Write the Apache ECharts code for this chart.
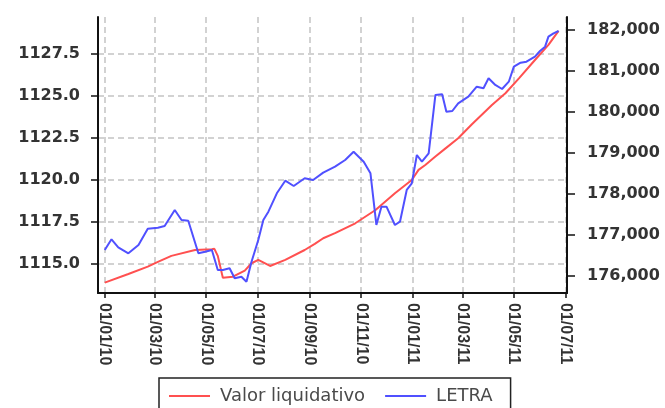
<!DOCTYPE html>
<html>
<head>
<meta charset="utf-8">
<script src="https://cdn.jsdelivr.net/npm/echarts@6/dist/echarts.min.js"></script>
<style>
  html, body { margin: 0; padding: 0; background: #fff; }
  #chart { width: 665px; height: 408px; }
</style>
</head>
<body>
<div id="chart"></div>
<script>
// Valor liquidativo (left axis)
const redDates = [
  '2010-01-01','2010-01-29','2010-02-21','2010-03-05','2010-03-21','2010-04-18','2010-05-08',
  '2010-05-11','2010-05-15','2010-05-21','2010-06-02','2010-06-16','2010-06-24','2010-07-02',
  '2010-07-16','2010-08-03','2010-08-26','2010-09-07','2010-09-17','2010-10-01','2010-10-25',
  '2010-11-18','2010-12-11','2010-12-31','2011-01-08','2011-01-16','2011-01-28','2011-02-09',
  '2011-02-24','2011-03-12','2011-04-05','2011-04-21','2011-05-07','2011-05-26','2011-06-11',
  '2011-06-23'
];
const redValues = [
  1113.89, 1114.40, 1114.84, 1115.12, 1115.48, 1115.83, 1115.87,
  1115.90, 1115.48, 1114.18, 1114.24, 1114.60, 1115.04, 1115.24,
  1114.88, 1115.24, 1115.83, 1116.19, 1116.53, 1116.83, 1117.42,
  1118.21, 1119.21, 1120.00, 1120.60, 1120.89, 1121.39, 1121.88,
  1122.48, 1123.30, 1124.46, 1125.16, 1126.05, 1127.14, 1128.04,
  1128.87
];

// LETRA (right axis)
const blueDates = [
  '2010-01-01','2010-01-09','2010-01-17','2010-01-29','2010-02-10','2010-02-21','2010-03-05',
  '2010-03-13','2010-03-25','2010-04-02','2010-04-10','2010-04-22','2010-04-30','2010-05-08',
  '2010-05-15','2010-05-21','2010-05-29','2010-06-04','2010-06-12','2010-06-18','2010-06-24',
  '2010-07-02','2010-07-08','2010-07-14','2010-07-24','2010-08-03','2010-08-13','2010-08-26',
  '2010-09-05','2010-09-17','2010-10-01','2010-10-13','2010-10-23','2010-11-04','2010-11-12',
  '2010-11-19','2010-11-25','2010-12-01','2010-12-11','2010-12-17','2010-12-25','2010-12-31',
  '2011-01-06','2011-01-12','2011-01-20','2011-01-28','2011-02-05','2011-02-10','2011-02-17',
  '2011-02-24','2011-03-08','2011-03-18','2011-03-26','2011-04-01','2011-04-09','2011-04-17',
  '2011-04-25','2011-05-01','2011-05-09','2011-05-16','2011-05-26','2011-06-01','2011-06-07',
  '2011-06-11','2011-06-17','2011-06-23'
];
const blueValues = [
  176634, 176895, 176700, 176553, 176756, 177154, 177178,
  177220, 177610, 177366, 177349, 176553, 176593, 176634,
  176146, 176146, 176187, 175943, 175983, 175861, 176349,
  176878, 177366, 177568, 178017, 178324, 178195, 178383,
  178341, 178520, 178666, 178829, 179032, 178788, 178504,
  177244, 177690, 177690, 177244, 177324, 178098, 178261,
  178951, 178788, 178993, 180415, 180432, 180007, 180024,
  180212, 180373, 180617, 180578, 180822, 180659, 180561,
  180739, 181105, 181202, 181227, 181349, 181488, 181593,
  181837, 181919, 181976
];

const leftTicks = [1115.0, 1117.5, 1120.0, 1122.5, 1125.0, 1127.5];
const rightTicks = [176000, 177000, 178000, 179000, 180000, 181000, 182000];
const tickMonths = [1, 3, 5, 7, 9, 11];

// daily calendar for the category axis
const days = [];
for (let t = Date.UTC(2009, 11, 24); t <= Date.UTC(2011, 6, 3); t += 86400000) {
  days.push(new Date(t).toISOString().slice(0, 10));
}
function isTick(idx) {
  const d = days[idx];
  return d.slice(8) === '01' && tickMonths.indexOf(+d.slice(5, 7)) >= 0;
}

const chart = echarts.init(document.getElementById('chart'));
const gridLine = { show: true, lineStyle: { color: '#c4c4c4', width: 1.5, type: [6, 4] } };
const axisBlack = { show: true, lineStyle: { color: '#111', width: 2 } };
const yLabel = { fontFamily: 'DejaVu Sans', fontWeight: 'bold', fontSize: 16, color: '#333' };

chart.setOption({
  animation: false,
  grid: { left: 98, right: 98, top: 17, bottom: 115 },
  legend: {
    left: 159, top: 378,
    padding: [9, 18, 20, 10],
    borderColor: '#222', borderWidth: 1.5,
    icon: 'rect', itemWidth: 41, itemHeight: 2, itemGap: 20,
    textStyle: { fontFamily: 'DejaVu Sans', fontSize: 18, color: '#4a4a4a', padding: [0, 0, 0, 5] },
    data: ['Valor liquidativo', 'LETRA']
  },
  xAxis: {
    type: 'category',
    data: days,
    boundaryGap: false,
    axisLine: axisBlack,
    axisTick: { show: true, interval: isTick, length: 5, lineStyle: { color: '#111', width: 1.5 } },
    axisLabel: {
      interval: isTick, rotate: -90, margin: 10,
      fontFamily: 'Liberation Sans', fontWeight: 'bold', fontSize: 16, color: '#333',
      formatter: v => v.slice(8) + '/' + v.slice(5, 7) + '/' + v.slice(2, 4)
    },
    splitLine: Object.assign({ interval: isTick }, gridLine)
  },
  yAxis: [
    {
      type: 'value', position: 'left',
      min: 1113.27, max: 1129.7,
      axisLine: axisBlack,
      axisTick: { show: true, length: 7, customValues: leftTicks, lineStyle: { color: '#111', width: 1.5 } },
      axisLabel: Object.assign({ margin: 18, customValues: leftTicks, formatter: v => v.toFixed(1) }, yLabel),
      splitLine: gridLine
    },
    {
      type: 'value', position: 'right',
      min: 175585, max: 182317,
      axisLine: axisBlack,
      axisTick: { show: true, length: 8, customValues: rightTicks, lineStyle: { color: '#111', width: 1.5 } },
      axisLabel: Object.assign({ margin: 20, customValues: rightTicks, formatter: v => v.toLocaleString('en-US') }, yLabel),
      splitLine: { show: false }
    }
  ],
  series: [
    {
      name: 'Valor liquidativo', type: 'line', yAxisIndex: 0,
      showSymbol: false, color: '#ff5050',
      lineStyle: { width: 2, color: '#ff5050' },
      data: redDates.map((d, i) => [d, redValues[i]])
    },
    {
      name: 'LETRA', type: 'line', yAxisIndex: 1,
      showSymbol: false, color: '#5050ff',
      lineStyle: { width: 2, color: '#5050ff' },
      data: blueDates.map((d, i) => [d, blueValues[i]])
    }
  ]
});
</script>
</body>
</html>
